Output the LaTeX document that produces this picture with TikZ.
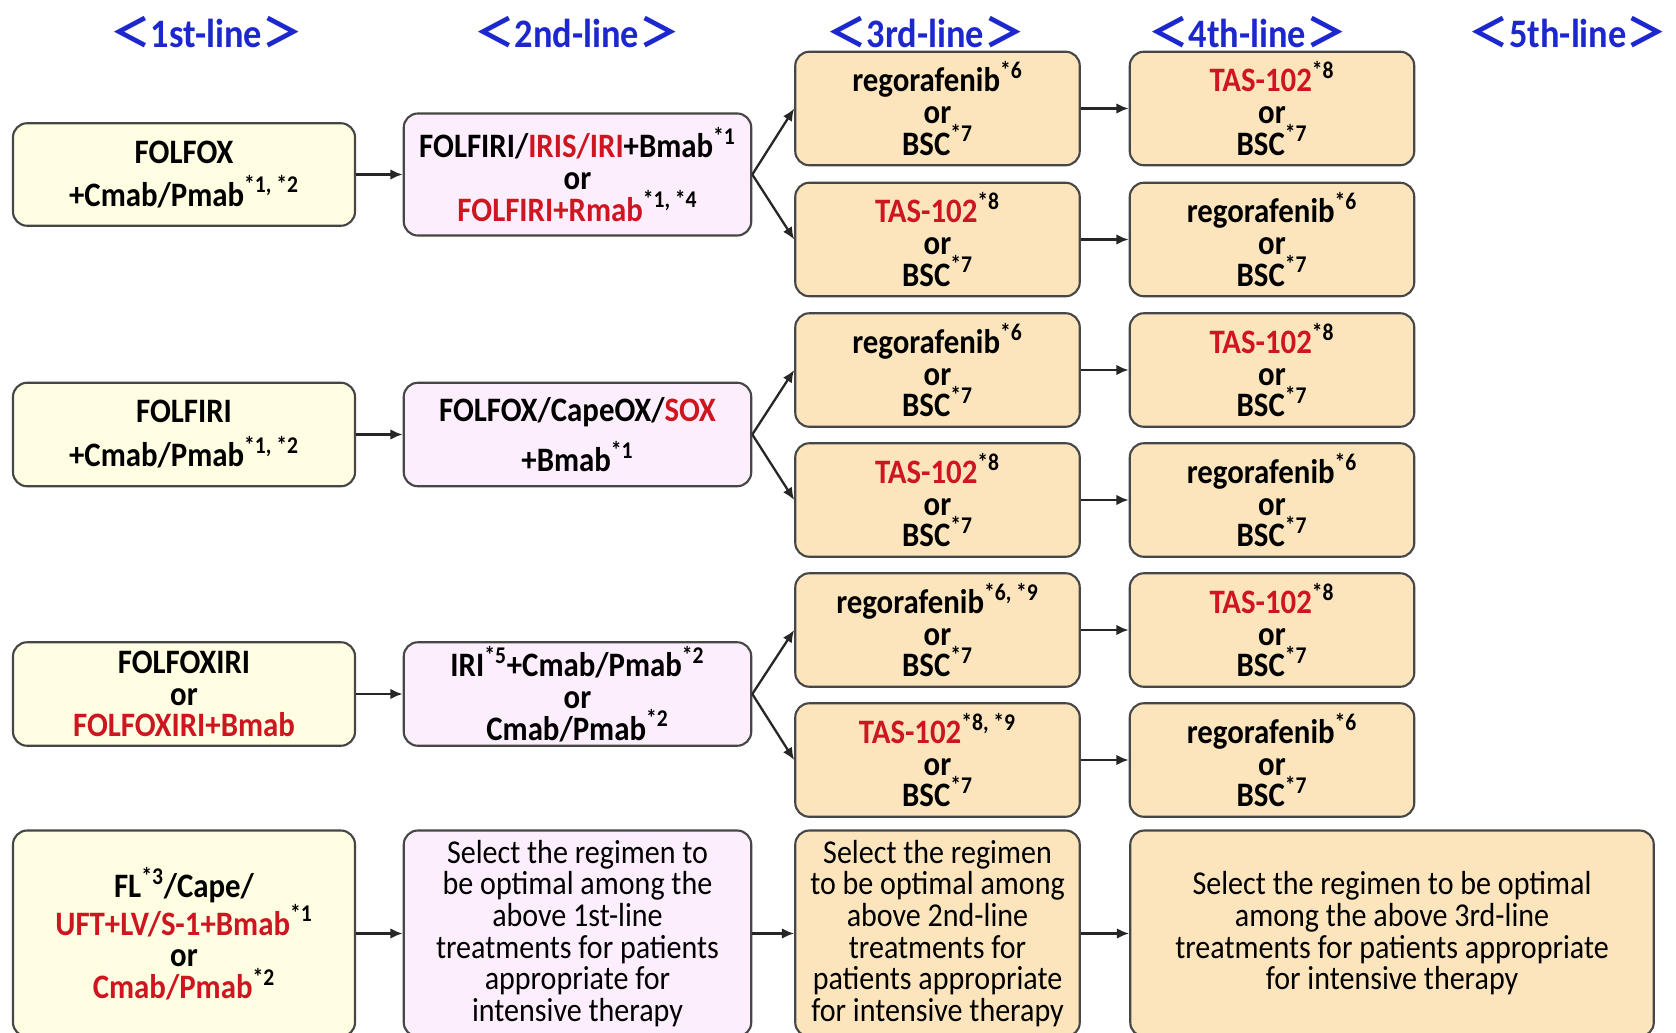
\documentclass[tikz,border=0pt]{standalone}
\usepackage{fontspec}
\setmainfont{Carlito}[FakeStretch=0.9]
\newfontfamily\cjk{Noto Sans CJK JP}
\usepackage{tikz}
\usetikzlibrary{arrows.meta}

\definecolor{headblue}{RGB}{28,40,205}
\definecolor{drugred}{RGB}{205,22,32}
\definecolor{boxline}{RGB}{70,70,70}
\definecolor{firstfill}{RGB}{255,254,226}
\definecolor{secondfill}{RGB}{252,238,252}
\definecolor{laterfill}{RGB}{252,229,188}

\newcommand{\rd}[1]{\textcolor{drugred}{#1}}
\newcommand{\refn}[1]{\textsuperscript{#1}}
\newcommand{\head}[1]{{\cjk ＜}#1{\cjk ＞}}

\begin{document}
\begin{tikzpicture}[
        box/.style={draw=boxline, line width=1.2pt, rounded corners=8pt, align=center,
            inner sep=1pt, font=\bfseries\fontsize{19.5}{18}\selectfont},
        plain/.style={box, font=\fontsize{19}{18}\selectfont},
        first/.style={fill=firstfill, minimum width=6.84cm},
        second/.style={fill=secondfill, minimum width=6.95cm},
        later/.style={fill=laterfill, minimum width=5.69cm, minimum height=2.27cm},
        headtext/.style={text=headblue, font=\bfseries\fontsize{23}{26}\selectfont},
        arr/.style={-{Latex[length=7pt,width=6pt]}, line width=1.3pt, draw=black!85}
    ]
        \fill[white] (0,0) rectangle (33.52,-20.64);
        \useasboundingbox (0,0) rectangle (33.52,-20.64);

        \node[headtext] (h1) at (4.13,-0.64) {\head{1st-line}};
        \node[headtext] (h2) at (11.54,-0.64) {\head{2nd-line}};
        \node[headtext] (h3) at (18.51,-0.64) {\head{3rd-line}};
        \node[headtext] (h4) at (24.95,-0.64) {\head{4th-line}};
        \node[headtext] (h5) at (31.36,-0.64) {\head{5th-line}};

        % first line
        \node[box, first, minimum height=2.05cm] (l1a) at (3.68,-3.49)
            {FOLFOX\\[6pt]+Cmab/Pmab\refn{*1, *2}};
        \node[box, first, minimum height=2.07cm] (l1b) at (3.68,-8.69)
            {FOLFIRI\\[7pt]+Cmab/Pmab\refn{*1, *2}};
        \node[box, first, minimum height=2.07cm] (l1c) at (3.68,-13.88)
            {FOLFOXIRI\\or\\\rd{FOLFOXIRI+Bmab}};
        \node[box, first, minimum height=4.12cm] (l1d) at (3.68,-18.67)
            {FL\refn{*3}/Cape/\\\rd{UFT+LV/S-1+Bmab}\refn{*1}\\or\\\rd{Cmab/Pmab}\refn{*2}};

        % second line
        \node[box, second, minimum height=2.44cm] (l2a) at (11.55,-3.49)
            {FOLFIRI/\rd{IRIS/IRI}+Bmab\refn{*1}\\or\\\rd{FOLFIRI+Rmab}\refn{*1, *4}};
        \node[box, second, minimum height=2.07cm] (l2b) at (11.55,-8.69)
            {FOLFOX/CapeOX/\rd{SOX}\\[7pt]+Bmab\refn{*1}};
        \node[box, second, minimum height=2.07cm] (l2c) at (11.55,-13.88)
            {IRI\refn{*5}+Cmab/Pmab\refn{*2}\\or\\Cmab/Pmab\refn{*2}};
        \node[plain, second, minimum height=4.12cm] (l2d) at (11.55,-18.67)
            {Select the regimen to\\be optimal among the\\above 1st-line\\treatments for patients\\appropriate for\\intensive therapy};

        % third line
        \node[box, later] (l3a) at (18.75,-2.17) {regorafenib\refn{*6}\\or\\BSC\refn{*7}};
        \node[box, later] (l3b) at (18.75,-4.79) {\rd{TAS-102}\refn{*8}\\or\\BSC\refn{*7}};
        \node[box, later] (l3c) at (18.75,-7.40) {regorafenib\refn{*6}\\or\\BSC\refn{*7}};
        \node[box, later] (l3d) at (18.75,-10.00) {\rd{TAS-102}\refn{*8}\\or\\BSC\refn{*7}};
        \node[box, later] (l3e) at (18.75,-12.60) {regorafenib\refn{*6, *9}\\or\\BSC\refn{*7}};
        \node[box, later] (l3f) at (18.75,-15.20) {\rd{TAS-102}\refn{*8, *9}\\or\\BSC\refn{*7}};
        \node[plain, later, minimum height=4.12cm] (l3g) at (18.75,-18.67)
            {Select the regimen\\to be optimal among\\above 2nd-line\\treatments for\\patients appropriate\\for intensive therapy};

        % fourth line
        \node[box, later] (l4a) at (25.44,-2.17) {\rd{TAS-102}\refn{*8}\\or\\BSC\refn{*7}};
        \node[box, later] (l4b) at (25.44,-4.79) {regorafenib\refn{*6}\\or\\BSC\refn{*7}};
        \node[box, later] (l4c) at (25.44,-7.40) {\rd{TAS-102}\refn{*8}\\or\\BSC\refn{*7}};
        \node[box, later] (l4d) at (25.44,-10.00) {regorafenib\refn{*6}\\or\\BSC\refn{*7}};
        \node[box, later] (l4e) at (25.44,-12.60) {\rd{TAS-102}\refn{*8}\\or\\BSC\refn{*7}};
        \node[box, later] (l4f) at (25.44,-15.20) {regorafenib\refn{*6}\\or\\BSC\refn{*7}};
        \node[plain, later, minimum width=10.47cm, minimum height=4.12cm] (l4g) at (27.84,-18.67)
            {Select the regimen to be optimal\\among the above 3rd-line\\treatments for patients appropriate\\for intensive therapy};

        \draw[arr] (l1a) -- (l2a);
        \draw[arr] (l1b) -- (l2b);
        \draw[arr] (l1c) -- (l2c);
        \draw[arr] (l1d) -- (l2d);
        \draw[arr] (l2a.east) -- (l3a.west);
        \draw[arr] (l2a.east) -- (l3b.west);
        \draw[arr] (l2b.east) -- (l3c.west);
        \draw[arr] (l2b.east) -- (l3d.west);
        \draw[arr] (l2c.east) -- (l3e.west);
        \draw[arr] (l2c.east) -- (l3f.west);
        \draw[arr] (l2d) -- (l3g);
        \draw[arr] (l3a) -- (l4a);
        \draw[arr] (l3b) -- (l4b);
        \draw[arr] (l3c) -- (l4c);
        \draw[arr] (l3d) -- (l4d);
        \draw[arr] (l3e) -- (l4e);
        \draw[arr] (l3f) -- (l4f);
        \draw[arr] (l3g) -- (l4g);
    \end{tikzpicture}
\end{document}
